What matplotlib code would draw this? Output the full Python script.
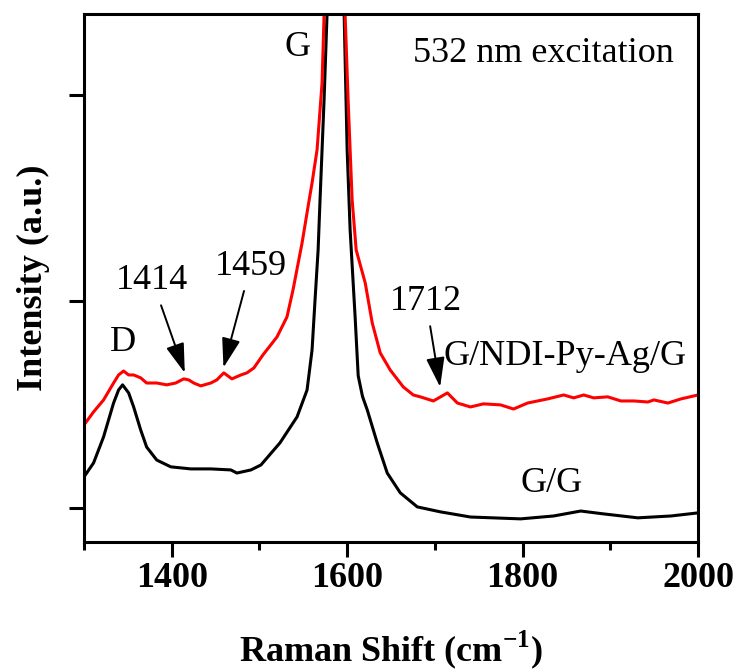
import numpy as np
import matplotlib
matplotlib.use("Agg")
import matplotlib.pyplot as plt

plt.rcParams['font.family'] = ['Liberation Serif', 'DejaVu Serif']
plt.rcParams['mathtext.fontset'] = 'custom'
plt.rcParams['mathtext.rm'] = 'Liberation Serif'
plt.rcParams['mathtext.bf'] = 'Liberation Serif:bold'

# G/G spectrum (black)
gg_shift = [1300, 1310.9, 1322.3, 1333.7, 1339.4, 1344.0, 1350.9, 1356.6, 1364.6, 1371.4,
            1382.9, 1398.9, 1421.7, 1444.6, 1467.4, 1474.3, 1490.3, 1501.7, 1523.4, 1542.9,
            1554.3, 1560.0, 1563.4, 1566.9, 1569.1, 1571.4, 1573.7, 1577.1, 1581, 1587,
            1593, 1596.6, 1600.0, 1603.4, 1609.1, 1612.6, 1617.5, 1622.9, 1634.3, 1645.7,
            1660.6, 1680.0, 1706.3, 1740.6, 1797.7, 1835.4, 1866.3, 1892.6, 1931.4, 1969.1,
            2000]
gg_int = [0.150, 0.218, 0.344, 0.508, 0.571, 0.596, 0.557, 0.489, 0.378, 0.295,
          0.232, 0.199, 0.189, 0.189, 0.184, 0.169, 0.184, 0.208, 0.315, 0.441,
          0.571, 0.765, 1.007, 1.249, 1.492, 1.734, 1.976, 2.392, 3.5, 6.0,
          3.5, 2.387, 1.734, 1.346, 0.925, 0.640, 0.540, 0.475, 0.315, 0.169,
          0.073, 0.005, -0.019, -0.044, -0.053, -0.039, -0.015, -0.029, -0.048, -0.039,
          -0.024]

# G/NDI-Py-Ag/G spectrum (red)
ag_shift = [1300, 1310.9, 1322.3, 1333.7, 1339.4, 1345.1, 1350.9, 1356.6, 1364.6, 1371.4,
            1382.9, 1394.3, 1404.6, 1413.7, 1419.4, 1425.1, 1433.1, 1444.6, 1451.4, 1459.4,
            1468.6, 1478.9, 1485.7, 1493.7, 1504.0, 1520.0, 1531.4, 1538.3, 1548.6, 1555.4,
            1560.0, 1565.7, 1571.4, 1573.7, 1580, 1587, 1594, 1597.7, 1601.1, 1605.7,
            1610.3, 1620.6, 1628.6, 1637.7, 1649.1, 1664.0, 1675.4, 1683.4, 1698.3, 1714.3,
            1725.7, 1740.6, 1755.4, 1774.9, 1789.7, 1805.7, 1828.6, 1846.9, 1858.3, 1869.7,
            1881.1, 1897.1, 1912.0, 1926.9, 1942.9, 1949.7, 1965.7, 1980.6, 2000]
ag_int = [0.402, 0.465, 0.523, 0.605, 0.644, 0.663, 0.644, 0.644, 0.630, 0.605,
          0.605, 0.596, 0.605, 0.625, 0.620, 0.605, 0.591, 0.605, 0.620, 0.654,
          0.625, 0.644, 0.654, 0.678, 0.741, 0.828, 0.925, 1.056, 1.283, 1.458,
          1.574, 1.734, 2.058, 2.387, 3.8, 6.5, 3.8, 2.387, 1.976, 1.492,
          1.249, 1.090, 0.896, 0.751, 0.668, 0.586, 0.547, 0.538, 0.518, 0.557,
          0.508, 0.489, 0.504, 0.499, 0.479, 0.508, 0.528, 0.547, 0.533, 0.547,
          0.533, 0.538, 0.518, 0.518, 0.513, 0.523, 0.508, 0.528, 0.547]

fig = plt.figure(figsize=(7.38, 6.70), dpi=100)
ax = fig.add_axes([84 / 738, 1 - 542 / 670, 614 / 738, 528 / 670])

ax.plot(gg_shift, gg_int, color='black', lw=2.2)
ax.plot(ag_shift, ag_int, color='red', lw=2.2)

ax.set_xlim(1300, 2000)
ax.set_ylim(-0.165, 2.392)
ax.set_xticks([1400, 1600, 1800, 2000])
ax.set_xticks([1300, 1500, 1700, 1900], minor=True)
ax.set_yticks([0, 1, 2])
ax.set_yticklabels([])

for s in ax.spines.values():
    s.set_linewidth(2.2)
ax.tick_params(axis='both', which='major', direction='out', length=11, width=2.2,
               labelsize=26)
ax.tick_params(axis='x', which='minor', direction='out', length=6, width=2.2)
for lab in ax.get_xticklabels():
    lab.set_fontweight('bold')

ax.set_xlabel(r'Raman Shift (cm$^{\mathbf{-1}}$)', fontsize=26, fontweight='bold', labelpad=24)
ax.set_ylabel('Intensity (a.u.)', fontsize=26, fontweight='bold', labelpad=10)

fs = 26
ax.text(1345, 0.80, 'D', fontsize=fs, ha='center', va='center')
ax.text(1544, 2.228, 'G', fontsize=fs, ha='center', va='center')
ax.text(1824, 2.203, '532 nm excitation', fontsize=fs, ha='center', va='center')
ax.text(1849, 0.731, 'G/NDI-Py-Ag/G', fontsize=fs, ha='center', va='center')
ax.text(1833, 0.116, 'G/G', fontsize=fs, ha='center', va='center')

arrow = dict(arrowstyle='-|>,head_length=0.7,head_width=0.22', color='black',
             lw=1.4, shrinkA=4, shrinkB=0)
ax.annotate('1414', xy=(1414.9, 0.654), xytext=(1378, 1.10), fontsize=fs,
            ha='center', va='center', arrowprops=arrow)
ax.annotate('1459', xy=(1459, 0.680), xytext=(1490, 1.17), fontsize=fs,
            ha='center', va='center', arrowprops=arrow)
ax.annotate('1712', xy=(1706, 0.586), xytext=(1690, 1.00), fontsize=fs,
            ha='center', va='center', arrowprops=arrow)

fig.savefig('out.png', dpi=100)
